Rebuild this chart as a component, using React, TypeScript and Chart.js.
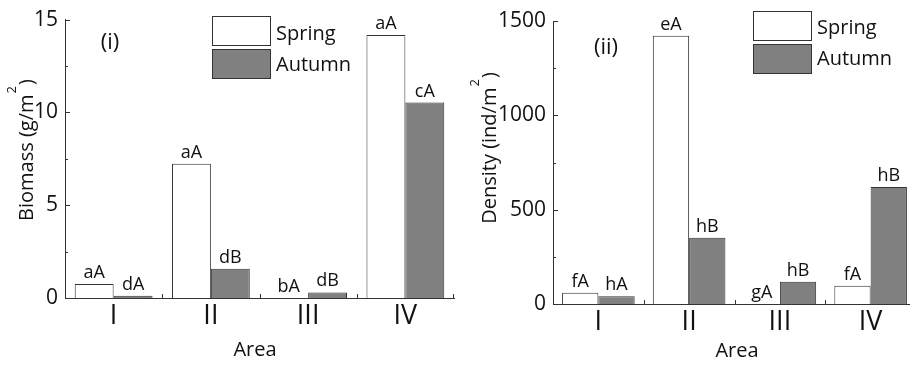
import React, { useEffect, useRef } from "react";
import { Chart, registerables } from "chart.js";

Chart.register(...registerables);

// ---------- data ----------
const areas = ["I", "II", "III", "IV"];
const seriesNames = ["Spring", "Autumn"];

const biomassSpring = [0.76, 7.23, 0, 14.17];
const biomassAutumn = [0.12, 1.58, 0.3, 10.53];
const biomassSpringLetters = ["aA", "aA", "bA", "aA"];
const biomassAutumnLetters = ["dA", "dB", "dB", "cA"];

const densitySpring = [60, 1422, 0, 97];
const densityAutumn = [41, 351, 118, 620];
const densitySpringLetters = ["fA", "eA", "gA", "fA"];
const densityAutumnLetters = ["hA", "hB", "hB", "hB"];

// ---------- style ----------
const FONT = "'Open Sans', sans-serif";
const TEXT = "#111111";
const LINE = "#333333";
const SPRING_FILL = "#ffffff";
const AUTUMN_FILL = "#808080";

const decor = {
  id: "decor",
  afterDraw(chart: any, _args: any, opts: any) {
    const ctx = chart.ctx as CanvasRenderingContext2D;
    const x = chart.scales.x;
    const y = chart.scales.y;
    const area = chart.chartArea;
    ctx.save();
    ctx.strokeStyle = LINE;
    ctx.lineWidth = 1;

    // y ticks (major + minor), inward
    const nSteps = Math.round((y.max - y.min) / opts.minorStep);
    for (let k = 0; k <= nSteps; k++) {
      const v = y.min + k * opts.minorStep;
      const py = Math.round(y.getPixelForValue(v)) + 0.5;
      const major = k % 2 === 0;
      const len = major ? 5 : 3;
      ctx.beginPath();
      ctx.moveTo(area.left, py);
      ctx.lineTo(area.left + len, py);
      ctx.stroke();
    }
    // x boundary ticks
    const n = x.ticks.length;
    for (let i = 1; i <= n; i++) {
      const px =
        i < n
          ? Math.round((x.getPixelForTick(i - 1) + x.getPixelForTick(i)) / 2) + 0.5
          : Math.round(area.right) - 0.5;
      ctx.beginPath();
      ctx.moveTo(px, area.bottom);
      ctx.lineTo(px, area.bottom - 4);
      ctx.stroke();
    }

    // bar letters
    ctx.fillStyle = TEXT;
    ctx.font = `18px ${FONT}`;
    ctx.textAlign = "center";
    ctx.textBaseline = "alphabetic";
    chart.data.datasets.forEach((_ds: any, di: number) => {
      const meta = chart.getDatasetMeta(di);
      const letters = opts.letters[di];
      meta.data.forEach((el: any, i: number) => {
        ctx.fillText(letters[i], el.x, el.y - 6);
      });
    });

    // panel label
    ctx.font = `22px ${FONT}`;
    ctx.textBaseline = "middle";
    ctx.fillText(opts.panel.text, opts.panel.x, opts.panel.y);

    // legend
    const lg = opts.legend;
    const fills = [SPRING_FILL, AUTUMN_FILL];
    seriesNames.forEach((name, i) => {
      const by = lg.y + i * (lg.h + lg.gap);
      ctx.fillStyle = fills[i];
      ctx.fillRect(lg.x, by, lg.w, lg.h);
      ctx.strokeStyle = LINE;
      ctx.strokeRect(lg.x + 0.5, by + 0.5, lg.w, lg.h);
      ctx.fillStyle = TEXT;
      ctx.font = `20px ${FONT}`;
      ctx.textAlign = "left";
      ctx.textBaseline = "alphabetic";
      ctx.fillText(name, lg.x + lg.w + 6, lg.baselines[i]);
    });

    // y title with superscript
    const yt = opts.yTitle;
    ctx.save();
    ctx.translate(yt.x, yt.cy);
    ctx.rotate(-Math.PI / 2);
    ctx.font = `20px ${FONT}`;
    const wMain = ctx.measureText(yt.main).width;
    const wTail = ctx.measureText(yt.tail).width;
    ctx.font = `13px ${FONT}`;
    const wSup = ctx.measureText(yt.sup).width;
    const total = wMain + wSup + wTail + 2;
    let cx = -total / 2;
    ctx.textAlign = "left";
    ctx.textBaseline = "alphabetic";
    ctx.fillStyle = TEXT;
    ctx.font = `20px ${FONT}`;
    ctx.fillText(yt.main, cx, 0);
    cx += wMain;
    ctx.font = `13px ${FONT}`;
    ctx.fillText(yt.sup, cx + 1, -17);
    cx += wSup + 2;
    ctx.font = `20px ${FONT}`;
    ctx.fillText(yt.tail, cx, 0);
    ctx.restore();

    // x title
    ctx.font = `20px ${FONT}`;
    ctx.textAlign = "center";
    ctx.textBaseline = "alphabetic";
    ctx.fillStyle = TEXT;
    ctx.fillText(opts.xTitle.text, opts.xTitle.x, opts.xTitle.y);

    ctx.restore();
  },
};

function makeConfig(p: any) {
  return {
    type: "bar",
    data: {
      labels: areas,
      datasets: [
        {
          label: seriesNames[0],
          data: p.spring,
          backgroundColor: SPRING_FILL,
          borderColor: LINE,
          borderWidth: 1,
          categoryPercentage: 0.8,
          barPercentage: 1.0,
        },
        {
          label: seriesNames[1],
          data: p.autumn,
          backgroundColor: AUTUMN_FILL,
          borderColor: LINE,
          borderWidth: 1,
          categoryPercentage: 0.8,
          barPercentage: 1.0,
        },
      ],
    },
    options: {
      responsive: false,
      animation: false,
      devicePixelRatio: 1,
      layout: { padding: { left: 0, right: p.padRight, top: p.padTop, bottom: 0 } },
      plugins: {
        legend: { display: false },
        tooltip: { enabled: false },
        decor: p.decor,
      },
      scales: {
        x: {
          offset: true,
          grid: { display: false, drawTicks: false },
          border: { display: true, color: LINE, width: 1, z: 1 },
          ticks: { color: TEXT, font: { family: FONT, size: 27 }, padding: 2 },
          afterFit: (s: any) => {
            s.height = p.xHeight;
          },
        },
        y: {
          min: p.min,
          max: p.max,
          grid: { display: false, drawTicks: false },
          border: { display: true, color: LINE, width: 1, z: 1 },
          ticks: {
            stepSize: p.step,
            color: TEXT,
            font: { family: FONT, size: 21 },
            padding: 7,
            callback: (v: any) => String(v),
          },
          afterFit: (s: any) => {
            s.width = p.yWidth;
          },
        },
      },
    },
    plugins: [decor],
  };
}

function BarPanel(props: { cfg: any; left: number; width: number }) {
  const ref = useRef<HTMLCanvasElement | null>(null);
  useEffect(() => {
    if (!ref.current) return;
    const chart = new Chart(ref.current, makeConfig(props.cfg) as any);
    return () => chart.destroy();
  }, []);
  return (
    <canvas
      ref={ref}
      width={props.width}
      height={365}
      style={{ position: "absolute", left: props.left, top: 0, width: props.width, height: 365 }}
    />
  );
}

const biomassCfg = {
  spring: biomassSpring,
  autumn: biomassAutumn,
  min: 0,
  max: 15,
  step: 5,
  yWidth: 65,
  xHeight: 67,
  padTop: 16,
  padRight: 6,
  decor: {
    minorStep: 2.5,
    letters: [biomassSpringLetters, biomassAutumnLetters],
    panel: { text: "(i)", x: 110, y: 43 },
    legend: { x: 212, y: 16, w: 58, h: 29, gap: 4, baselines: [39.5, 71] },
    yTitle: { x: 33, cy: 150, main: "Biomass (g/m", sup: "2", tail: ")" },
    xTitle: { text: "Area", x: 255, y: 356 },
  },
};

const densityCfg = {
  spring: densitySpring,
  autumn: densityAutumn,
  min: 0,
  max: 1500,
  step: 500,
  yWidth: 93,
  xHeight: 61,
  padTop: 21,
  padRight: 14,
  decor: {
    minorStep: 250,
    letters: [densitySpringLetters, densityAutumnLetters],
    panel: { text: "(ii)", x: 146, y: 48 },
    legend: { x: 293, y: 11, w: 58, h: 29, gap: 4, baselines: [33.5, 65] },
    yTitle: { x: 36, cy: 148, main: "Density (ind/m", sup: "2", tail: ")" },
    xTitle: { text: "Area", x: 277, y: 357 },
  },
};

export default function App() {
  return (
    <div
      style={{
        position: "fixed",
        left: 0,
        top: 0,
        width: 910,
        height: 365,
        overflow: "hidden",
        background: "#ffffff",
      }}
    >
      <BarPanel cfg={biomassCfg} left={0} width={460} />
      <BarPanel cfg={densityCfg} left={460} width={470} />
    </div>
  );
}
